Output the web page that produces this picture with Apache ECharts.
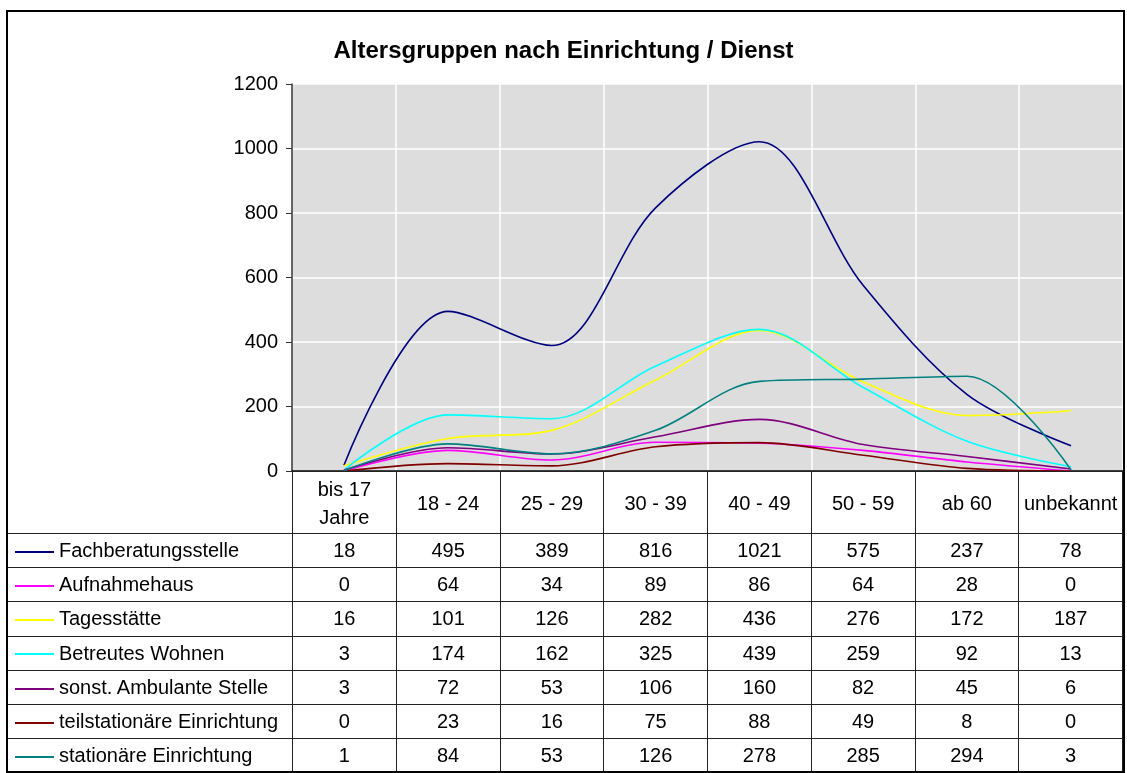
<!DOCTYPE html>
<html>
<head>
<meta charset="utf-8">
<script src="https://cdn.jsdelivr.net/npm/echarts@6/dist/echarts.min.js"></script>
<style>
  html, body { margin: 0; padding: 0; background: #fff; }
  #page { position: relative; width: 1127px; height: 773px; overflow: hidden; font-family: "Liberation Sans", Arial, sans-serif; }
  #chart { position: absolute; left: 0; top: 0; width: 1127px; height: 773px; }
  #frame { position: absolute; left: 6px; top: 10px; width: 1119px; height: 763px; box-sizing: border-box; border: 2px solid #000; pointer-events: none; }
  #dataTable { position: absolute; left: 7px; top: 471px; width: 1116px; border-collapse: collapse; table-layout: fixed; font-size: 20px; color: #000; }
  #dataTable td { border: 1px solid #222; padding: 0; text-align: center; white-space: nowrap; overflow: hidden; }
  #dataTable tr.head td { height: 61px; line-height: 28px; }
  #dataTable tr.head td.corner { border-top: none; border-left: none; }
  #dataTable tr.row td { height: 33.2px; }
  #dataTable td.label { text-align: left; }
  .key { display: inline-block; width: 39px; height: 2px; vertical-align: middle; margin: 0 5px 0 7px; }
</style>
</head>
<body>
<div id="page">
  <div id="chart"></div>
  <table id="dataTable"></table>
  <div id="frame"></div>
</div>
<script>
  // Kategorien (Altersgruppen)
  const categories = ['bis 17\nJahre', '18 - 24', '25 - 29', '30 - 39', '40 - 49', '50 - 59', 'ab 60', 'unbekannt'];

  // Einrichtungen / Dienste
  const seriesNames = [
    'Fachberatungsstelle',
    'Aufnahmehaus',
    'Tagesstätte',
    'Betreutes Wohnen',
    'sonst. Ambulante Stelle',
    'teilstationäre Einrichtung',
    'stationäre Einrichtung'
  ];

  // Werte je Einrichtung
  const fachberatung = [18, 495, 389, 816, 1021, 575, 237, 78];
  const aufnahmehaus = [0, 64, 34, 89, 86, 64, 28, 0];
  const tagesstaette = [16, 101, 126, 282, 436, 276, 172, 187];
  const betreutesWohnen = [3, 174, 162, 325, 439, 259, 92, 13];
  const sonstAmbulant = [3, 72, 53, 106, 160, 82, 45, 6];
  const teilstationaer = [0, 23, 16, 75, 88, 49, 8, 0];
  const stationaer = [1, 84, 53, 126, 278, 285, 294, 3];

  const seriesValues = [fachberatung, aufnahmehaus, tagesstaette, betreutesWohnen, sonstAmbulant, teilstationaer, stationaer];
  const seriesColors = ['#000080', '#FF00FF', '#FFFF00', '#00FFFF', '#800080', '#800000', '#008080'];

  // Y-Achse
  const yTicks = [0, 200, 400, 600, 800, 1000, 1200];

  /* Datentabelle unter dem Diagramm */
  const table = document.getElementById('dataTable');
  let html = '<colgroup><col style="width:285px">';
  categories.forEach(() => { html += '<col>'; });
  html += '</colgroup>';
  html += '<tr class="head"><td class="corner"></td>';
  categories.forEach(c => { html += '<td>' + c.replace('\n', '<br>') + '</td>'; });
  html += '</tr>';
  seriesNames.forEach((name, i) => {
    html += '<tr class="row"><td class="label"><span class="key" style="background:' + seriesColors[i] + '"></span>' + name + '</td>';
    seriesValues[i].forEach(v => { html += '<td>' + v + '</td>'; });
    html += '</tr>';
  });
  table.innerHTML = html;

  /* Liniendiagramm */
  const chart = echarts.init(document.getElementById('chart'));
  const option = {
    animation: false,
    title: {
      text: 'Altersgruppen nach Einrichtung / Dienst',
      left: 'center',
      top: 34,
      textStyle: { fontFamily: 'Liberation Sans', fontSize: 24, fontWeight: 'bold', color: '#000' }
    },
    grid: {
      left: 292,
      right: 4,
      top: 84,
      bottom: 302,
      show: true,
      backgroundColor: '#DDDDDD',
      borderWidth: 0
    },
    xAxis: {
      type: 'category',
      data: categories,
      boundaryGap: true,
      axisLine: { lineStyle: { color: '#000', width: 1.5 } },
      axisTick: { show: false },
      axisLabel: { show: false },
      splitLine: { show: true, interval: 0, lineStyle: { color: '#fff', width: 1.5 } }
    },
    yAxis: {
      type: 'value',
      min: yTicks[0],
      max: yTicks[yTicks.length - 1],
      interval: 200,
      axisLine: { show: true, lineStyle: { color: '#333', width: 1.5 } },
      axisTick: { show: true, length: 6, lineStyle: { color: '#333' } },
      axisLabel: { margin: 14, fontFamily: 'Liberation Sans', fontSize: 20, color: '#000', formatter: v => String(v) },
      splitLine: { show: true, lineStyle: { color: '#fff', width: 1.5 } }
    },
    series: seriesNames.map((name, i) => ({
      name: name,
      type: 'line',
      data: seriesValues[i],
      smooth: 0.33,
      symbol: 'none',
      lineStyle: { color: seriesColors[i], width: 1.6 },
      itemStyle: { color: seriesColors[i] }
    }))
  };
  option && chart.setOption(option);
</script>
</body>
</html>
